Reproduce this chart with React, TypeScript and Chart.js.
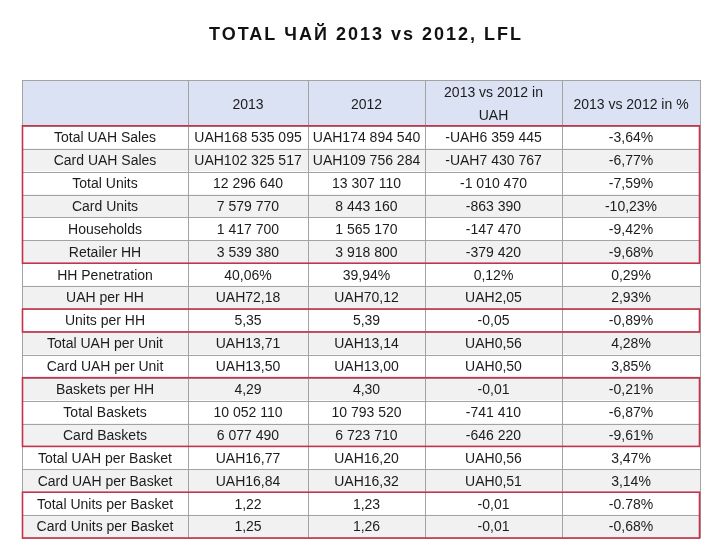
import React, { useEffect, useRef } from "react";
import { Chart, registerables } from "chart.js";

Chart.register(...registerables);

const title = "TOTAL ЧАЙ 2013 vs 2012, LFL";
const headers: (string | string[])[] = ["", "2013", "2012", ["2013 vs 2012 in", "UAH"], "2013 vs 2012 in %"];
const rowLabels = [
  "Total UAH Sales", "Card UAH Sales", "Total Units", "Card Units", "Households", "Retailer HH",
  "HH Penetration", "UAH per HH", "Units per HH", "Total UAH per Unit", "Card UAH per Unit",
  "Baskets per HH", "Total Baskets", "Card Baskets", "Total UAH per Basket", "Card UAH per Basket",
  "Total Units per Basket", "Card Units per Basket",
];
const values2013 = [
  "UAH168 535 095", "UAH102 325 517", "12 296 640", "7 579 770", "1 417 700", "3 539 380",
  "40,06%", "UAH72,18", "5,35", "UAH13,71", "UAH13,50", "4,29", "10 052 110", "6 077 490",
  "UAH16,77", "UAH16,84", "1,22", "1,25",
];
const values2012 = [
  "UAH174 894 540", "UAH109 756 284", "13 307 110", "8 443 160", "1 565 170", "3 918 800",
  "39,94%", "UAH70,12", "5,39", "UAH13,14", "UAH13,00", "4,30", "10 793 520", "6 723 710",
  "UAH16,20", "UAH16,32", "1,23", "1,26",
];
const diffUAH = [
  "-UAH6 359 445", "-UAH7 430 767", "-1 010 470", "-863 390", "-147 470", "-379 420",
  "0,12%", "UAH2,05", "-0,05", "UAH0,56", "UAH0,50", "-0,01", "-741 410", "-646 220",
  "UAH0,56", "UAH0,51", "-0,01", "-0,01",
];
const diffPct = [
  "-3,64%", "-6,77%", "-7,59%", "-10,23%", "-9,42%", "-9,68%", "0,29%", "2,93%", "-0,89%",
  "4,28%", "3,85%", "-0,21%", "-6,87%", "-9,61%", "3,47%", "3,14%", "-0.78%", "-0,68%",
];
const highlightGroups: [number, number][] = [[0, 5], [8, 8], [11, 13], [16, 17]];

// layout constants
const COL_EDGES = [0, 166, 286, 403, 540, 678];
const TOTAL_W = COL_EDGES[COL_EDGES.length - 1];
const HEADER_UNITS = 2;
const FONT = '"Liberation Sans", Arial, sans-serif';

const columns = [rowLabels, values2013, values2012, diffUAH, diffPct];

const tablePlugin = {
  id: "tablePlugin",
  afterDatasetsDraw(chart: any) {
    const { ctx, scales } = chart;
    const xs = scales.x;
    const ys = scales.y;
    const nRows = rowLabels.length;
    const yMax = HEADER_UNITS + nRows;
    ctx.save();

    // grid lines
    ctx.strokeStyle = "#a3a3a3";
    ctx.lineWidth = 1;
    ctx.beginPath();
    const yLines = [0];
    for (let i = HEADER_UNITS; i <= yMax; i++) yLines.push(i);
    const xl = xs.getPixelForValue(0);
    const xr = xs.getPixelForValue(TOTAL_W);
    for (const v of yLines) {
      const py = Math.round(ys.getPixelForValue(v)) + 0.5;
      ctx.moveTo(xl, py);
      ctx.lineTo(xr, py);
    }
    const yt = ys.getPixelForValue(0);
    const yb = ys.getPixelForValue(yMax);
    for (const e of COL_EDGES) {
      const px = Math.round(xs.getPixelForValue(e)) + 0.5;
      ctx.moveTo(px, yt);
      ctx.lineTo(px, yb);
    }
    ctx.stroke();

    // header text
    ctx.fillStyle = "#1c1c1c";
    ctx.font = `14px ${FONT}`;
    ctx.textAlign = "center";
    ctx.textBaseline = "middle";
    headers.forEach((h, c) => {
      const cx = xs.getPixelForValue((COL_EDGES[c] + COL_EDGES[c + 1]) / 2);
      const cy = ys.getPixelForValue(HEADER_UNITS / 2) + 2;
      const lines = Array.isArray(h) ? h : [h];
      const lh = 23;
      lines.forEach((ln, k) => {
        ctx.fillText(ln, cx, cy + (k - (lines.length - 1) / 2) * lh);
      });
    });

    // cell text
    columns.forEach((col, c) => {
      const cx = xs.getPixelForValue((COL_EDGES[c] + COL_EDGES[c + 1]) / 2);
      col.forEach((txt, r) => {
        const cy = ys.getPixelForValue(HEADER_UNITS + r + 0.5);
        ctx.fillText(txt, cx, cy + 1);
      });
    });

    // highlight boxes
    ctx.strokeStyle = "#c3344c";
    ctx.lineWidth = 1.6;
    for (const [a, b] of highlightGroups) {
      const top = ys.getPixelForValue(HEADER_UNITS + a);
      const bot = Math.min(ys.getPixelForValue(HEADER_UNITS + b + 1), chart.height - 2);
      ctx.strokeRect(xl + 0.5, top, xr - xl - 1, bot - top);
    }

    // title
    ctx.fillStyle = "#111111";
    ctx.font = `bold 18px ${FONT}`;
    (ctx as any).letterSpacing = "2px";
    ctx.textAlign = "center";
    ctx.textBaseline = "middle";
    ctx.fillText(title, 366, 35);
    ctx.restore();
  },
};

export default function App() {
  const ref = useRef<HTMLCanvasElement | null>(null);
  useEffect(() => {
    if (!ref.current) return;
    const nRows = rowLabels.length;
    const bandData: { x: [number, number]; y: number }[] = [];
    const bandColors: string[] = [];
    for (let i = 0; i < HEADER_UNITS; i++) {
      bandData.push({ x: [0, TOTAL_W], y: i + 0.5 });
      bandColors.push("#dae2f4");
    }
    for (let r = 0; r < nRows; r++) {
      bandData.push({ x: [0, TOTAL_W], y: HEADER_UNITS + r + 0.5 });
      bandColors.push(r % 2 === 1 ? "#f1f1f1" : "#ffffff");
    }
    const chart = new Chart(ref.current, {
      type: "bar",
      data: {
        datasets: [
          {
            data: bandData as any,
            backgroundColor: bandColors,
            borderWidth: 0,
            barPercentage: 1,
            categoryPercentage: 1,
          },
        ],
      },
      options: {
        indexAxis: "y",
        animation: false,
        responsive: true,
        maintainAspectRatio: false,
        layout: { padding: { left: 22, right: 20, top: 80, bottom: 2 } },
        plugins: { legend: { display: false }, tooltip: { enabled: false }, title: { display: false } },
        scales: {
          x: { type: "linear", min: 0, max: TOTAL_W, display: false, offset: false },
          y: { type: "linear", min: 0, max: HEADER_UNITS + nRows, reverse: true, display: false, offset: false },
        },
      },
      plugins: [tablePlugin],
    });
    return () => chart.destroy();
  }, []);
  return (
    <div style={{ position: "fixed", left: 0, top: 0, width: 720, height: 540, background: "#ffffff" }}>
      <canvas ref={ref} />
    </div>
  );
}
